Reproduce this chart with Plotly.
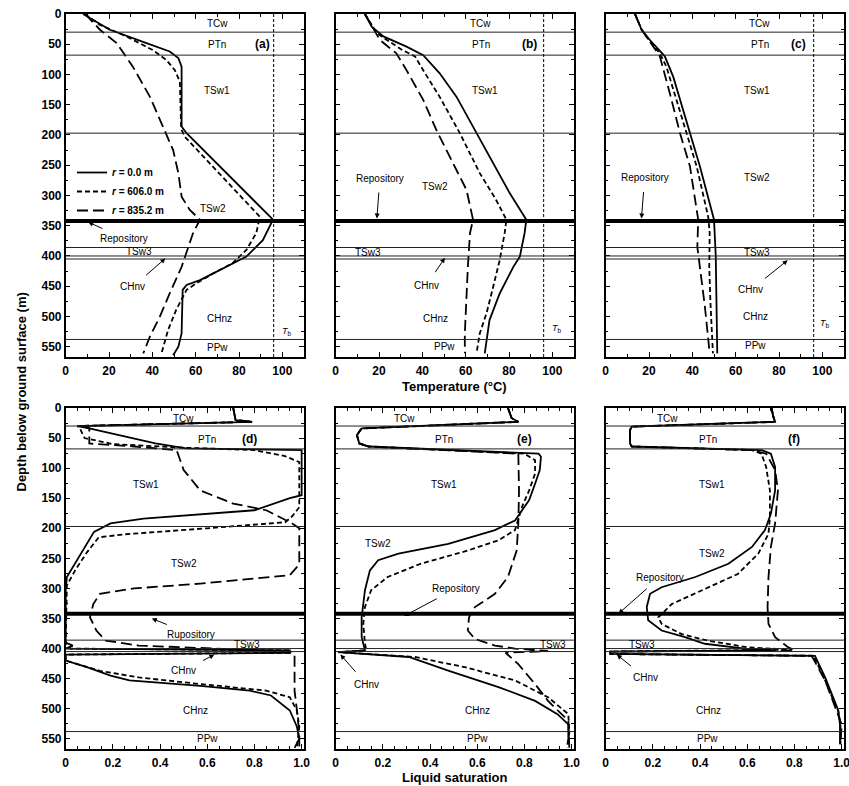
import plotly.graph_objects as go

# ---------------- data ----------------
# Panel (a) temperature
a_r0_depth = [0, 26, 48, 62, 73, 87, 186, 197, 340, 374, 401, 440, 448, 456, 528, 550, 564]
a_r0_temp = [8, 20.4, 37.3, 48, 52, 53.5, 53.5, 55.8, 95.7, 91, 83.4, 62, 55.8, 54, 53.5, 52, 49.6]
a_r606_depth = [0, 18, 37, 60, 76, 93, 112, 190, 203, 335, 362, 390, 412, 429, 445, 456, 489, 522, 561]
a_r606_temp = [8.9, 15.8, 28, 40.4, 46.5, 50.4, 52.7, 53.3, 55, 89.6, 88, 83.4, 77, 68, 60.4, 55.8, 51, 47.3, 44.2]
a_r835_depth = [0, 26, 48, 87, 137, 186, 225, 263, 302, 324, 340, 362, 396, 418, 462, 500, 533, 561]
a_r835_temp = [9, 15.8, 23.5, 31, 38.9, 45, 49.6, 52, 53.5, 57.3, 62, 58.8, 55.8, 53.5, 48, 43.5, 38.9, 35.8]

# Panel (b) temperature
b_r0_depth = [0, 21, 37, 54, 68, 98, 137, 197, 225, 296, 340, 362, 401, 418, 462, 506, 561]
b_r0_temp = [13.5, 16.6, 22, 32.7, 40.4, 48, 55.8, 65, 69.6, 80.3, 88, 87.2, 85, 82, 75.7, 71, 68.8]
b_r606_depth = [0, 32, 60, 70, 93, 137, 197, 263, 307, 340, 362, 407, 451, 495, 528, 561]
b_r606_temp = [13.5, 19, 31, 36.6, 40.4, 48, 57.3, 66.5, 74, 78.8, 78, 75.7, 72.7, 69.6, 66.5, 65]
b_r835_depth = [0, 43, 65, 93, 142, 192, 247, 291, 340, 362, 418, 473, 528, 561]
b_r835_temp = [13.5, 20.4, 28, 32.7, 40.4, 46.5, 54.2, 60.4, 63.4, 62, 61, 60.4, 59.6, 59.6]

# Panel (c) temperature
c_r0_depth = [0, 26, 43, 60, 70, 104, 197, 252, 340, 400, 561]
c_r0_temp = [13.5, 16.6, 20.4, 25, 27.3, 31.2, 38.9, 43.5, 50, 50.8, 51.5]
c_r606_depth = [0, 26, 45, 65, 87, 142, 197, 252, 335, 362, 418, 473, 561]
c_r606_temp = [13.5, 16.6, 20.4, 25, 28, 32.7, 37.3, 42, 47.3, 48, 47.8, 48.3, 49.5]
c_r835_depth = [0, 26, 54, 70, 131, 197, 252, 318, 340, 385, 418, 484, 561]
c_r835_temp = [13.5, 16.6, 22, 25, 29.6, 34.3, 38.9, 42, 42.7, 42.3, 43.5, 45.8, 48]

# Panel (d) liquid saturation
d_r0_depth = [0, 20, 23, 30, 34, 45, 59, 67, 70, 145, 150, 170, 184, 192, 206, 281, 303, 390, 395, 400,
              403, 407, 410, 420, 431, 445, 453, 462, 470, 478, 503, 530, 550, 565]
d_r0_sat = [0.71, 0.72, 0.79, 0.05, 0.10, 0.22, 0.38, 0.51, 1.0, 1.0, 0.95, 0.80, 0.33, 0.19, 0.12, 0.005, 0.0, 0.0, 0.03, 0.0,
            0.95, 0.95, 0.0, 0.0, 0.09, 0.19, 0.27, 0.57, 0.78, 0.87, 0.95, 0.98, 0.99, 0.97]
d_r606_depth = [0, 20, 23, 30, 34, 50, 60, 66, 70, 80, 90, 165, 180, 190, 200, 210, 215, 240, 270, 295, 390, 400,
                403, 407, 410, 420, 437, 448, 459, 470, 481, 503, 530, 565]
d_r606_sat = [0.71, 0.72, 0.79, 0.05, 0.06, 0.08, 0.2, 0.5, 0.8, 0.93, 0.99, 0.99, 0.96, 0.93, 0.6, 0.25, 0.14, 0.09, 0.04, 0.005, 0.0, 0.02,
              0.95, 0.95, 0.0, 0.0, 0.145, 0.31, 0.57, 0.85, 0.95, 0.98, 0.99, 0.98]
d_r835_depth = [0, 20, 23, 30, 33, 55, 59, 64, 70, 81, 103, 137, 159, 170, 192, 200, 260, 278, 292, 300, 309, 326,
                348, 370, 387, 395, 400, 405, 410, 440, 470, 503, 540, 565]
d_r835_sat = [0.71, 0.72, 0.79, 0.05, 0.1, 0.1, 0.1, 0.29, 0.47, 0.48, 0.5, 0.57, 0.71, 0.85, 0.96, 0.99, 0.99, 0.95, 0.57, 0.29, 0.145, 0.117,
              0.103, 0.13, 0.17, 0.31, 0.65, 0.95, 0.97, 0.97, 0.97, 0.98, 0.99, 0.99]

# Panel (e) liquid saturation
e_r0_depth = [0, 17, 23, 34, 45, 59, 64, 70, 76, 81, 103, 126, 153, 187, 203, 226, 242, 253, 270, 303, 348, 381,
              392, 403, 406, 414, 437, 464, 487, 509, 526, 559]
e_r0_sat = [0.73, 0.746, 0.774, 0.11, 0.09, 0.10, 0.14, 0.48, 0.86, 0.87, 0.865, 0.845, 0.82, 0.76, 0.675, 0.477, 0.266, 0.18, 0.145, 0.124, 0.11, 0.11,
            0.117, 0.124, 0.01, 0.31, 0.48, 0.69, 0.845, 0.94, 0.986, 0.986]
e_r606_depth = [0, 17, 23, 34, 45, 59, 64, 70, 76, 87, 109, 137, 164, 203, 220, 237, 259, 281, 303, 331, 359, 392,
                403, 406, 414, 431, 453, 481, 509, 540, 565]
e_r606_sat = [0.73, 0.746, 0.774, 0.11, 0.09, 0.10, 0.14, 0.48, 0.80, 0.845, 0.845, 0.82, 0.79, 0.76, 0.69, 0.56, 0.36, 0.22, 0.15, 0.124, 0.117, 0.124,
              0.13, 0.01, 0.336, 0.548, 0.76, 0.9, 0.986, 0.99, 0.98]
e_r835_depth = [0, 17, 23, 34, 45, 59, 64, 70, 76, 137, 192, 237, 281, 309, 331, 348, 370, 384, 395, 400,
                404, 407, 426, 459, 487, 520, 565]
e_r835_sat = [0.73, 0.746, 0.774, 0.11, 0.09, 0.10, 0.14, 0.48, 0.774, 0.777, 0.774, 0.767, 0.73, 0.675, 0.59, 0.565, 0.56, 0.59, 0.675, 0.76,
              0.9, 0.72, 0.774, 0.845, 0.9, 0.986, 0.99]

# Panel (f) liquid saturation
f_r0_depth = [0, 14, 23, 31, 37, 59, 64, 70, 76, 98, 137, 176, 203, 231, 259, 281, 298, 309, 331, 353, 370, 381,
              392, 400, 403, 405, 409, 412, 448, 481, 503, 526, 559]
f_r0_sat = [0.703, 0.71, 0.718, 0.11, 0.103, 0.103, 0.11, 0.66, 0.70, 0.718, 0.718, 0.70, 0.675, 0.62, 0.52, 0.38, 0.237, 0.188, 0.174, 0.18, 0.237, 0.336,
            0.42, 0.59, 0.718, 0.02, 0.02, 0.887, 0.93, 0.965, 0.986, 0.993, 0.993]
f_r606_depth = [0, 14, 23, 31, 37, 59, 64, 70, 76, 98, 137, 181, 209, 242, 276, 303, 326, 348, 359, 376, 387, 398,
                402, 405, 409, 412, 448, 481, 503, 526, 559]
f_r606_sat = [0.703, 0.71, 0.718, 0.11, 0.103, 0.103, 0.11, 0.62, 0.66, 0.68, 0.696, 0.696, 0.69, 0.647, 0.56, 0.407, 0.28, 0.223, 0.237, 0.322, 0.435, 0.604,
              0.79, 0.02, 0.02, 0.88, 0.925, 0.96, 0.985, 0.995, 0.995]
f_r835_depth = [0, 14, 23, 31, 37, 59, 64, 70, 76, 103, 137, 192, 231, 281, 331, 359, 381, 398, 403, 405, 409, 412,
                453, 503, 526, 559]
f_r835_sat = [0.703, 0.71, 0.718, 0.11, 0.103, 0.103, 0.11, 0.62, 0.68, 0.718, 0.73, 0.718, 0.70, 0.69, 0.686, 0.69, 0.718, 0.774, 0.8, 0.02, 0.02, 0.873,
              0.93, 0.98, 1.0, 0.995]

series_names = ["<i>r</i> = 0.0 m", "<i>r</i> = 606.0 m", "<i>r</i> = 835.2 m"]
layer_boundaries = [30, 68, 197, 386, 400, 405, 538]
repository_depth = 342
boiling_temp = 96
temp_ticks = [0, 20, 40, 60, 80, 100]
temp_ticklabels = ["0", "20", "40", "60", "80", "100"]
sat_ticks = [0, 0.2, 0.4, 0.6, 0.8, 1.0]
sat_ticklabels = ["0", "0.2", "0.4", "0.6", "0.8", "1.0"]
depth_ticks = list(range(0, 551, 50))
panel_letters = ["(a)", "(b)", "(c)", "(d)", "(e)", "(f)"]

# layer name labels: (name, x, depth) per panel
layer_labels = [
    [("TCw", 70, 16), ("PTn", 70, 50), ("TSw1", 70, 126), ("TSw2", 68, 321), ("TSw3", 34, 393),
     ("CHnz", 71, 503), ("PPw", 70, 551)],
    [("TCw", 67, 16), ("PTn", 67, 50), ("TSw1", 69, 126), ("TSw2", 46, 285), ("TSw3", 15, 394),
     ("CHnz", 46, 503), ("PPw", 50, 550)],
    [("TCw", 71, 16), ("PTn", 71, 50), ("TSw1", 70, 126), ("TSw2", 70, 271), ("TSw3", 70, 394),
     ("CHnz", 69, 500), ("PPw", 69, 548)],
    [("TCw", 0.5, 18), ("PTn", 0.6, 52), ("TSw1", 0.34, 128), ("TSw2", 0.5, 259), ("TSw3", 0.77, 394),
     ("CHnz", 0.55, 503), ("PPw", 0.6, 550)],
    [("TCw", 0.29, 18), ("PTn", 0.46, 52), ("TSw1", 0.46, 128), ("TSw2", 0.18, 226), ("TSw3", 0.92, 394),
     ("CHnz", 0.6, 503), ("PPw", 0.6, 550)],
    [("TCw", 0.26, 18), ("PTn", 0.435, 52), ("TSw1", 0.45, 128), ("TSw2", 0.45, 242), ("TSw3", 0.153, 394),
     ("CHnz", 0.435, 503), ("PPw", 0.43, 550)],
]
letter_pos = [(91, 50), (89.6, 50), (89, 50), (0.78, 52), (0.8, 52), (0.8, 52)]
# arrows: (text, text_x, text_depth, tip_x, tip_depth)
arrow_labels = [
    [("Repository", 27, 371, 10.4, 344), ("CHnv", 31, 451, 46, 404)],
    [("Repository", 20.4, 272, 19, 338), ("CHnv", 42, 448, 50.4, 403)],
    [("Repository", 18, 271, 16.5, 338), ("CHnv", 67, 456, 84, 407)],
    [("Rupository", 0.53, 376, 0.365, 350), ("CHnv", 0.5, 437, 0.63, 410)],
    [("Repository", 0.51, 300, 0.29, 346), ("CHnv", 0.13, 459, 0.02, 410)],
    [("Repository", 0.23, 281, 0.054, 342), ("CHnv", 0.167, 448, 0.047, 410)],
]
tb_label_pos = [(102, 525), (102, 520), (101, 512)]

# ---------------- layout geometry ----------------
W, H = 849, 786
x_px = [(65.7, 304.0), (335.7, 574.0), (605.7, 844.0)]
y_px = [(14.0, 357.0), (408.0, 749.0)]


def xdom(i):
    a, b = x_px[i]
    return [a / W, b / W]


def ydom(r):
    t, b = y_px[r]
    return [1 - b / H, 1 - t / H]


fig = go.Figure()
FONT = "Liberation Sans, Arial, Helvetica, sans-serif"
dashes = ["solid", "5px,3px", "11px,5px"]

panels = [
    [(a_r0_temp, a_r0_depth), (a_r606_temp, a_r606_depth), (a_r835_temp, a_r835_depth)],
    [(b_r0_temp, b_r0_depth), (b_r606_temp, b_r606_depth), (b_r835_temp, b_r835_depth)],
    [(c_r0_temp, c_r0_depth), (c_r606_temp, c_r606_depth), (c_r835_temp, c_r835_depth)],
    [(d_r0_sat, d_r0_depth), (d_r606_sat, d_r606_depth), (d_r835_sat, d_r835_depth)],
    [(e_r0_sat, e_r0_depth), (e_r606_sat, e_r606_depth), (e_r835_sat, e_r835_depth)],
    [(f_r0_sat, f_r0_depth), (f_r606_sat, f_r606_depth), (f_r835_sat, f_r835_depth)],
]

annotations = []
shapes = []
for p in range(6):
    row, col = divmod(p, 3)
    n = p + 1
    xa = "x" if n == 1 else f"x{n}"
    ya = "y" if n == 1 else f"y{n}"
    xkey = "xaxis" if n == 1 else f"xaxis{n}"
    ykey = "yaxis" if n == 1 else f"yaxis{n}"
    for s, (xs, ds) in enumerate(panels[p]):
        fig.add_trace(go.Scatter(
            x=xs, y=ds, mode="lines", xaxis=xa, yaxis=ya,
            line=dict(color="black", width=1.8, dash=dashes[s]),
            name=series_names[s], showlegend=(p == 0), hoverinfo="skip"))
    is_temp = row == 0
    fig.update_layout({
        xkey: dict(
            domain=xdom(col), anchor=ya, automargin=False,
            range=[0, 110] if is_temp else [0, 1.01],
            tickvals=temp_ticks if is_temp else sat_ticks,
            ticktext=temp_ticklabels if is_temp else sat_ticklabels,
            ticks="inside", ticklen=5, tickwidth=1, tickcolor="black",
            minor=dict(ticks="inside", ticklen=3, dtick=10 if is_temp else 0.05, tickcolor="black"),
            showline=True, linecolor="black", linewidth=1.5, mirror="allticks",
            showgrid=False, zeroline=False, ticklabelstandoff=2, ticklabeloverflow="allow",
            tickfont=dict(family=FONT, size=12, color="black", weight="bold"),
        ),
        ykey: dict(
            domain=ydom(row), anchor=xa, automargin=False,
            range=[567, 0], autorange=False,
            tickvals=depth_ticks, ticks="inside", ticklen=5, tickcolor="black",
            minor=dict(ticks="inside", ticklen=3, dtick=25, tickcolor="black"),
            showticklabels=(col == 0), ticklabeloverflow="allow",
            showline=True, linecolor="black", linewidth=1.5, mirror="allticks",
            showgrid=False, zeroline=False,
            tickfont=dict(family=FONT, size=12, color="black", weight="bold"),
        ),
    })
    for bd in layer_boundaries:
        shapes.append(dict(type="line", xref=f"{xa} domain", yref=ya, x0=0, x1=1, y0=bd, y1=bd,
                           line=dict(color="#222", width=1)))
    shapes.append(dict(type="line", xref=f"{xa} domain", yref=ya, x0=0, x1=1,
                       y0=repository_depth, y1=repository_depth, line=dict(color="black", width=4)))
    if is_temp:
        shapes.append(dict(type="line", xref=xa, yref=f"{ya} domain", x0=boiling_temp, x1=boiling_temp,
                           y0=0, y1=1, line=dict(color="black", width=1, dash="3px,2px")))
        tx, td = tb_label_pos[col]
        annotations.append(dict(x=tx, y=td, xref=xa, yref=ya, showarrow=False,
                                text="<i>T</i><sub>b</sub>", font=dict(family=FONT, size=9, color="black")))
    for name, lx, ld in layer_labels[p]:
        annotations.append(dict(x=lx, y=ld, xref=xa, yref=ya, showarrow=False, text=name,
                                font=dict(family=FONT, size=10, color="black")))
    lx, ld = letter_pos[p]
    annotations.append(dict(x=lx, y=ld, xref=xa, yref=ya, showarrow=False, text=panel_letters[p],
                            font=dict(family=FONT, size=12, color="black", weight="bold")))
    for name, tx, td, ax_, ad in arrow_labels[p]:
        annotations.append(dict(x=ax_, y=ad, xref=xa, yref=ya, ax=tx, ay=td, axref=xa, ayref=ya,
                                showarrow=True, arrowhead=2, arrowsize=1, arrowwidth=1, arrowcolor="black",
                                standoff=0, startstandoff=7, text=name,
                                font=dict(family=FONT, size=10, color="black")))

annotations.append(dict(x=(x_px[1][0] + x_px[1][1]) / 2 / W, y=1 - 386 / H, xref="paper", yref="paper",
                        showarrow=False, text="Temperature (°C)", yanchor="middle",
                        font=dict(family=FONT, size=13, color="black", weight="bold")))
annotations.append(dict(x=(x_px[1][0] + x_px[1][1]) / 2 / W, y=1 - 777 / H, xref="paper", yref="paper",
                        showarrow=False, text="Liquid saturation", yanchor="middle",
                        font=dict(family=FONT, size=13, color="black", weight="bold")))
annotations.append(dict(x=11 / W, y=1 - 392 / H, xref="paper", yref="paper", showarrow=False,
                        text="Depth below ground surface (m)", textangle=-90, yanchor="middle",
                        font=dict(family=FONT, size=13, color="black", weight="bold")))

fig.update_layout(
    width=W, height=H, margin=dict(l=0, r=0, t=0, b=0, autoexpand=False),
    paper_bgcolor="white", plot_bgcolor="white",
    shapes=shapes, annotations=annotations,
    legend=dict(x=72 / W, y=1 - 158 / H, xanchor="left", yanchor="top",
                bgcolor="rgba(0,0,0,0)", font=dict(family=FONT, size=10, color="black", weight="bold"),
                itemwidth=30, tracegroupgap=0),
)

fig.write_html("out.html", config={"displayModeBar": False},
               post_script="document.body.style.margin='0';document.body.style.overflow='hidden';")
